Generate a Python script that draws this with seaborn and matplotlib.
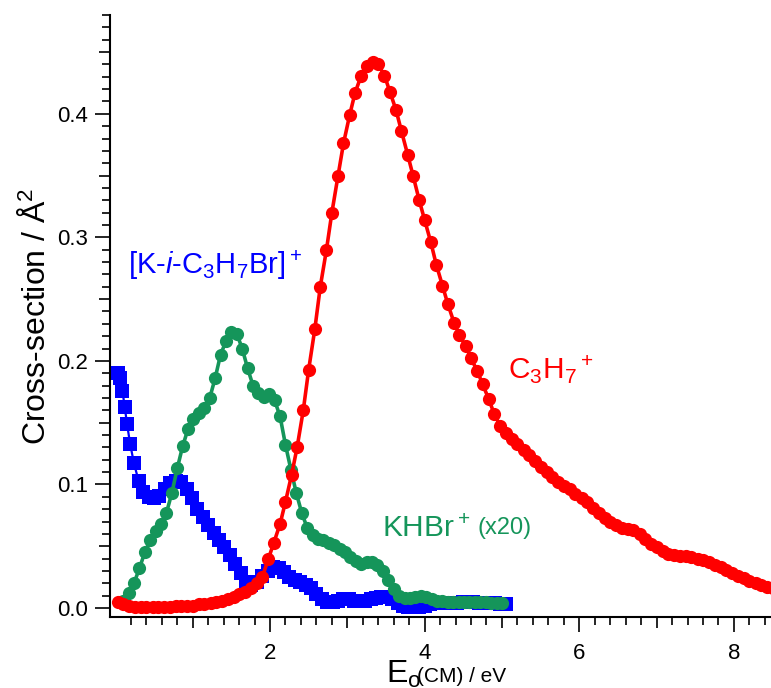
import numpy as np
import matplotlib
matplotlib.use('Agg')
import matplotlib.pyplot as plt
import seaborn as sns
from matplotlib.ticker import FormatStrFormatter

# C3H7+ cross-section (red circles)
red_e = [0.03, 0.10, 0.18, 0.25, 0.33, 0.40, 0.48, 0.55, 0.63, 0.70,
         0.78, 0.85, 0.93, 1.00, 1.08, 1.15, 1.23, 1.30, 1.38, 1.45,
         1.53, 1.60, 1.68, 1.75, 1.83, 1.90, 1.98, 2.05, 2.13, 2.20,
         2.28, 2.35, 2.43, 2.50, 2.58, 2.65, 2.73, 2.80, 2.88, 2.95,
         3.03, 3.10, 3.18, 3.25, 3.33, 3.40, 3.48, 3.55, 3.63, 3.70,
         3.78, 3.85, 3.93, 4.00, 4.08, 4.15, 4.23, 4.30, 4.38, 4.45,
         4.53, 4.60, 4.68, 4.75, 4.83, 4.90, 4.98, 5.05, 5.13, 5.20,
         5.28, 5.35, 5.43, 5.50, 5.58, 5.65, 5.73, 5.80, 5.88, 5.95,
         6.03, 6.10, 6.18, 6.25, 6.33, 6.40, 6.48, 6.55, 6.63, 6.70,
         6.78, 6.85, 6.93, 7.00, 7.08, 7.15, 7.23, 7.30, 7.38, 7.45,
         7.53, 7.60, 7.68, 7.75, 7.83, 7.90, 7.98, 8.05, 8.13, 8.20,
         8.28, 8.35, 8.43, 8.50, 8.58]
red_sigma = [0.005, 0.003, 0.002, 0.001, 0.001, 0.001, 0.001, 0.001, 0.001, 0.001,
             0.002, 0.002, 0.002, 0.002, 0.003, 0.003, 0.004, 0.005, 0.006, 0.007,
             0.009, 0.011, 0.013, 0.016, 0.020, 0.025, 0.040, 0.053, 0.068, 0.086,
             0.108, 0.130, 0.160, 0.193, 0.226, 0.260, 0.290, 0.320, 0.350, 0.376,
             0.399, 0.417, 0.431, 0.439, 0.442, 0.440, 0.431, 0.418, 0.403, 0.386,
             0.367, 0.350, 0.330, 0.314, 0.296, 0.278, 0.261, 0.246, 0.231, 0.221,
             0.212, 0.202, 0.192, 0.181, 0.169, 0.157, 0.147, 0.142, 0.137, 0.133,
             0.128, 0.124, 0.119, 0.114, 0.110, 0.106, 0.102, 0.099, 0.096, 0.092,
             0.089, 0.086, 0.081, 0.077, 0.073, 0.070, 0.067, 0.065, 0.064, 0.063,
             0.060, 0.056, 0.052, 0.049, 0.046, 0.044, 0.043, 0.042, 0.042, 0.041,
             0.040, 0.039, 0.037, 0.035, 0.033, 0.031, 0.028, 0.026, 0.024, 0.022,
             0.020, 0.019, 0.017, 0.016, 0.015]

# [K-i-C3H7Br]+ (blue squares)
blue_e = [0.03, 0.06, 0.09, 0.12, 0.15, 0.19, 0.24, 0.30, 0.36, 0.43,
          0.50, 0.57, 0.64, 0.71, 0.78, 0.85, 0.92, 0.99, 1.06, 1.13,
          1.20, 1.27, 1.34, 1.41, 1.48, 1.55, 1.62, 1.69, 1.76, 1.83,
          1.90, 1.97, 2.04, 2.11, 2.18, 2.25, 2.32, 2.39, 2.46, 2.53,
          2.60, 2.67, 2.74, 2.81, 2.88, 2.95, 3.02, 3.09, 3.16, 3.23,
          3.30, 3.37, 3.44, 3.51, 3.58, 3.65, 3.72, 3.79, 3.86, 3.93,
          4.00, 4.07, 4.14, 4.21, 4.28, 4.35, 4.42, 4.49, 4.56, 4.63,
          4.70, 4.77, 4.84, 4.91, 4.98, 5.05]
blue_sigma = [0.190, 0.186, 0.176, 0.163, 0.149, 0.133, 0.117, 0.103, 0.094, 0.090,
              0.089, 0.091, 0.096, 0.101, 0.103, 0.102, 0.096, 0.089, 0.080, 0.074,
              0.067, 0.061, 0.055, 0.049, 0.043, 0.036, 0.028, 0.021, 0.019, 0.021,
              0.026, 0.030, 0.033, 0.032, 0.029, 0.025, 0.023, 0.021, 0.019, 0.016,
              0.011, 0.007, 0.005, 0.005, 0.006, 0.007, 0.007, 0.006, 0.006, 0.006,
              0.007, 0.008, 0.009, 0.009, 0.007, 0.004, 0.002, 0.001, 0.001, 0.001,
              0.002, 0.003, 0.004, 0.004, 0.004, 0.004, 0.004, 0.005, 0.005, 0.005,
              0.004, 0.004, 0.004, 0.004, 0.003, 0.003]

# KHBr+ (x20) (green circles)
green_e = [0.10, 0.17, 0.24, 0.31, 0.38, 0.45, 0.52, 0.59, 0.66, 0.73,
           0.80, 0.87, 0.94, 1.01, 1.08, 1.15, 1.22, 1.29, 1.36, 1.43,
           1.50, 1.57, 1.64, 1.71, 1.78, 1.85, 1.92, 1.99, 2.06, 2.13,
           2.20, 2.27, 2.34, 2.41, 2.48, 2.55, 2.62, 2.69, 2.76, 2.83,
           2.90, 2.97, 3.04, 3.11, 3.18, 3.25, 3.32, 3.39, 3.46, 3.53,
           3.60, 3.67, 3.74, 3.81, 3.88, 3.95, 4.02, 4.09, 4.16, 4.23,
           4.30, 4.37, 4.44, 4.51, 4.58, 4.65, 4.72, 4.79, 4.86, 4.93,
           5.00]
green_sigma = [0.006, 0.012, 0.020, 0.032, 0.045, 0.055, 0.062, 0.068, 0.077, 0.093,
               0.113, 0.131, 0.145, 0.153, 0.158, 0.162, 0.170, 0.186, 0.205, 0.216,
               0.223, 0.222, 0.210, 0.194, 0.180, 0.174, 0.171, 0.173, 0.168, 0.155,
               0.132, 0.112, 0.093, 0.077, 0.065, 0.059, 0.056, 0.055, 0.053, 0.051,
               0.048, 0.045, 0.041, 0.038, 0.036, 0.037, 0.037, 0.035, 0.030, 0.023,
               0.015, 0.010, 0.008, 0.008, 0.009, 0.010, 0.009, 0.007, 0.006, 0.006,
               0.005, 0.005, 0.005, 0.005, 0.005, 0.005, 0.005, 0.005, 0.004, 0.004,
               0.004]

x_major = [2, 4, 6, 8]
x_mid = [1, 3, 5, 7]
y_major = [0.0, 0.1, 0.2, 0.3, 0.4]
y_mid = [0.05, 0.15, 0.25, 0.35, 0.45]

RED = '#ff0000'
BLUE = '#0000ff'
GREEN = '#15955a'

sns.set_theme(style='ticks')
plt.rcParams['font.family'] = ['Liberation Sans', 'DejaVu Sans']
plt.rcParams['mathtext.fontset'] = 'custom'
plt.rcParams['mathtext.rm'] = 'Liberation Sans'
plt.rcParams['mathtext.it'] = 'Liberation Sans:italic'
plt.rcParams['mathtext.bf'] = 'Liberation Sans:bold'
plt.rcParams['text.color'] = 'black'
plt.rcParams['axes.labelcolor'] = 'black'
plt.rcParams['xtick.color'] = 'black'
plt.rcParams['ytick.color'] = 'black'

fig = plt.figure(figsize=(7.71, 6.88), dpi=100)
ax = fig.add_axes([110 / 771, 71 / 688, 661 / 771, 602 / 688])

# blue below, green, red on top
sns.lineplot(x=blue_e, y=blue_sigma, ax=ax, color=BLUE, marker='s', markersize=9.5,
             markeredgewidth=0, linewidth=1.6, estimator=None, sort=False)
sns.lineplot(x=green_e, y=green_sigma, ax=ax, color=GREEN, marker='o', markersize=9.5,
             markeredgewidth=0, linewidth=2.6, estimator=None, sort=False)
sns.lineplot(x=red_e, y=red_sigma, ax=ax, color=RED, marker='o', markersize=9.5,
             markeredgewidth=0, linewidth=2.6, estimator=None, sort=False)

ax.set_xlim(-0.07, 8.48)
ax.set_ylim(-0.0073, 0.48)

sns.despine(ax=ax)
for s in ['left', 'bottom']:
    ax.spines[s].set_linewidth(1.5)
    ax.spines[s].set_color('black')

ax.set_xticks(x_major)
ax.set_xticks([k * 0.2 for k in range(1, 43) if k % 5 != 0], minor=True)
ax.set_yticks(y_major)
ax.set_yticks([k * 0.01 for k in range(1, 49) if k % 5 != 0], minor=True)
ax.yaxis.set_major_formatter(FormatStrFormatter('%.1f'))
ax.tick_params(which='major', length=11, width=1.2, labelsize=16)
ax.tick_params(which='minor', length=5.5, width=1.2)
ax.tick_params(axis='x', which='major', pad=8)
ax.tick_params(axis='y', which='major', pad=5)

# medium-length ticks at odd integers / half tenths
sec_x = ax.secondary_xaxis('bottom')
sec_x.set_xticks(x_mid)
sec_x.tick_params(length=8, width=1.2, labelbottom=False)
sec_x.spines['bottom'].set_visible(False)
sec_y = ax.secondary_yaxis('left')
sec_y.set_yticks(y_mid)
sec_y.tick_params(length=8, width=1.2, labelleft=False)
sec_y.spines['left'].set_visible(False)

ax.set_ylabel('Cross-section / Å$^2$', fontsize=23)
ax.yaxis.set_label_coords(-0.088, 0.5)

# x label: large E with subscript, smaller "(CM) / eV"
ax.text(0.4175, -0.110, 'E$_\\mathregular{o}$', transform=ax.transAxes,
        fontsize=23, ha='left', va='baseline')
ax.text(0.464, -0.108, '(CM) / eV', transform=ax.transAxes,
        fontsize=15, ha='left', va='baseline')

ax.text(0.16, 0.27, '[K-$\\mathit{i}$-C$_3$H$_7$Br]$^+$', color=BLUE,
        fontsize=21, ha='left', va='baseline')
ax.text(5.08, 0.185, 'C$_3$H$_7$$^+$', color=RED,
        fontsize=21.5, ha='left', va='baseline')
ax.text(3.445, 0.0577, 'KHBr$^+$', color=GREEN,
        fontsize=21.5, ha='left', va='baseline')
ax.text(4.68, 0.0595, '(x20)', color=GREEN,
        fontsize=17, ha='left', va='baseline')

fig.savefig('out.png', dpi=100)
